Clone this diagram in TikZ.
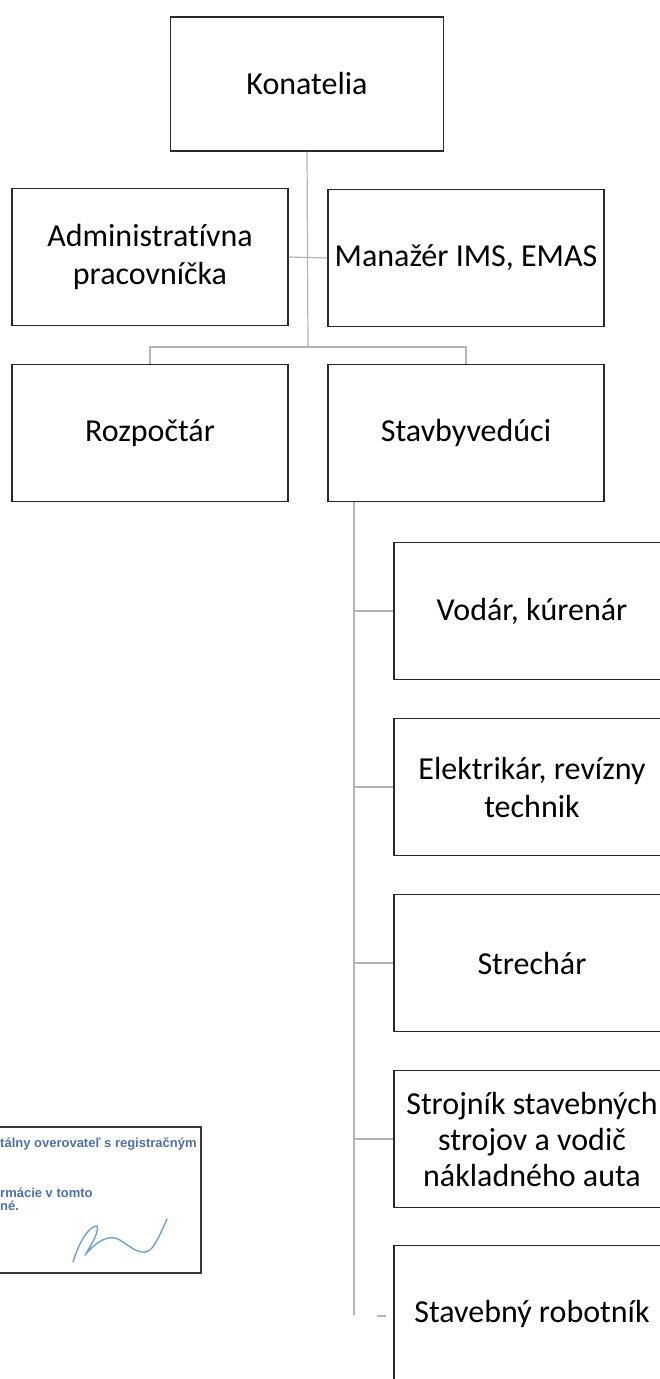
\documentclass[tikz,border=0pt]{standalone}
\usepackage{fontspec}
\setmainfont{Carlito}[Ligatures=NoCommon]
\newfontfamily\stampfont{Liberation Sans}

\definecolor{boxline}{HTML}{2A2A2A}
\definecolor{linegray}{HTML}{B4B4B4}
\definecolor{stampblue}{HTML}{4F6FA8}
\definecolor{stampline}{HTML}{3A3A3A}
\definecolor{sigblue}{HTML}{6BA3CC}

\tikzset{
  conn/.style={draw=linegray,line width=1.2pt},
  stamptext/.style={anchor=base west,inner sep=0pt,text=stampblue,font=\stampfont\bfseries\fontsize{13}{14}\selectfont}
}

\begin{document}
\begin{tikzpicture}[x=1pt,y=-1pt]
    \useasboundingbox (0,0) rectangle (660,1379);
    \clip (0,0) rectangle (660,1379);

        \begin{scope}[every node/.style={draw=boxline,line width=1.9pt,fill=white,minimum width=276pt,minimum height=137pt,inner sep=0pt,align=center,font=\fontsize{32}{38}\selectfont}]
            \node (kon) at (307,84) [minimum width=273pt,minimum height=134pt] {Konatelia};
            \node (adm) at (150,257) {Administratívna\\pracovníčka};
            \node (man) at (466,258) {Manažér IMS, EMAS};
            \node (roz) at (150,433) {Rozpočtár};
            \node (stv) at (466,433) {Stavbyvedúci};
            \node (vod) at (532,611) {Vodár, kúrenár};
            \node (ele) at (532,787) {Elektrikár, revízny\\technik};
            \node (str) at (532,963) {Strechár};
            \node (stj) at (532,1139) [font=\fontsize{32}{36}\selectfont] {Strojník stavebných\\strojov a vodič\\nákladného auta};
            \node (rob) at (532,1314) {Stavebný robotník};
        \end{scope}

        \coordinate (bar) at (308,347);
        \coordinate (spine) at (354,1315);
        \coordinate (robstub) at (377,1316);

        \begin{scope}[every path/.style={conn}]
            \draw (kon.south) -- (bar);
            \draw (adm.east) -- (man.west);
            \draw (roz.north) |- (bar) -| (stv.north);
            \draw (stv.south -| spine) -- (spine);
            \foreach \n in {vod,ele,str,stj}
                \draw (\n.west -| spine) -- (\n.west);
            \draw (robstub) -- ++(9,0);
        \end{scope}

        % stamp
        \draw[draw=stampline,line width=1.3pt] (-10,1127) rectangle (201,1273);
        \node[stamptext] (st1) at (0,1147) {tálny overovateľ s registračným};
        \node[stamptext] (st2) at (0,1197) {rmácie v tomto};
        \node[stamptext] (st3) at (0,1210) {né.};
        \draw[sigblue,line width=1.4pt,line cap=round,line join=round]
            (73,1262) .. controls (78,1245) and (88,1226) .. (97,1226)
            .. controls (100,1232) and (88,1250) .. (85,1255)
            .. controls (95,1243) and (108,1233) .. (120,1240)
            .. controls (132,1248) and (143,1258) .. (152,1248)
            .. controls (158,1240) and (163,1228) .. (167,1219);

    \end{tikzpicture}
\end{document}
